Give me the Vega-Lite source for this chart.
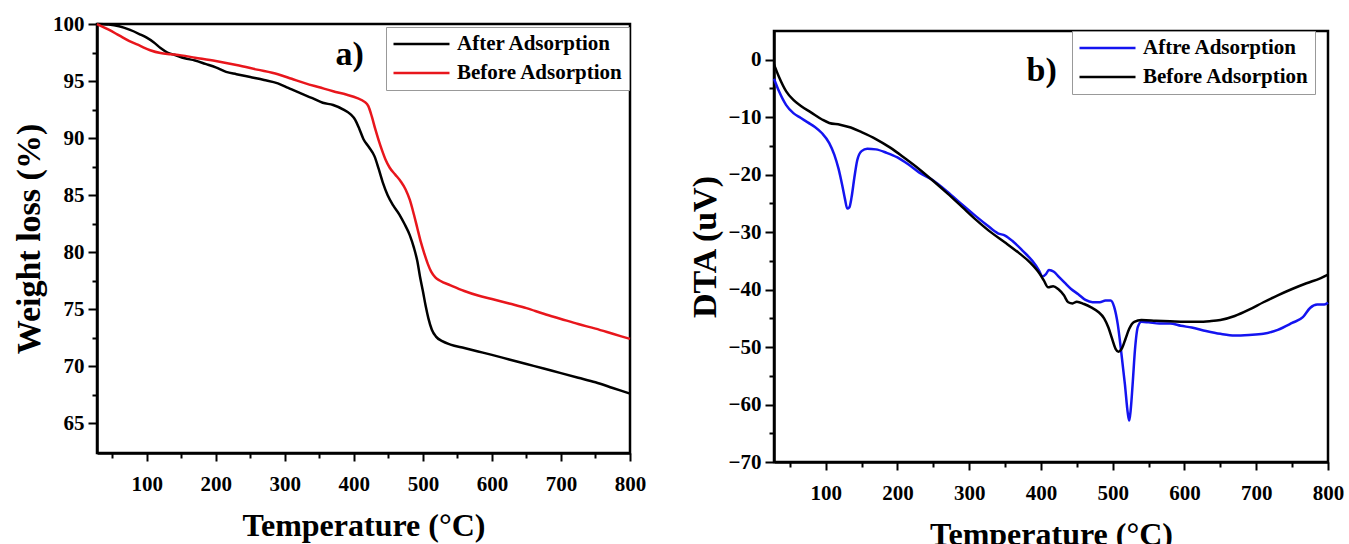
{
  "$schema": "https://vega.github.io/schema/vega-lite/v6.json",
  "background": "white",
  "padding": {"left": 11, "top": 11, "right": 0, "bottom": 0},
  "spacing": 39,
  "config": {
    "font": "Liberation Serif",
    "view": {"stroke": "black", "strokeWidth": 2.5},
    "axis": {
      "grid": false,
      "domainColor": "black",
      "domainWidth": 2.5,
      "tickColor": "black",
      "tickWidth": 2,
      "labelFont": "Liberation Serif",
      "labelFontWeight": "bold",
      "labelFontSize": 21,
      "labelColor": "black",
      "titleFont": "Liberation Serif",
      "titleFontWeight": "bold",
      "titleColor": "black",
      "labelOverlap": false
    },
    "legend": {
      "orient": "none",
      "title": null,
      "symbolType": "stroke",
      "symbolSize": 3136,
      "symbolStrokeWidth": 2.5,
      "clipHeight": 22,
      "rowPadding": 7,
      "labelFont": "Liberation Serif",
      "labelFontWeight": "bold",
      "labelFontSize": 21,
      "labelColor": "black",
      "labelLimit": 400,
      "labelOffset": 6,
      "strokeColor": "#999999",
      "fillColor": "white",
      "padding": 6
    }
  },
  "resolve": {
    "scale": {"x": "independent", "y": "independent", "color": "independent"},
    "legend": {"color": "independent"}
  },
  "datasets": {
    "tga": [
      {"T": 28, "w": 100, "s": "After Adsorption"},
      {"T": 45, "w": 99.95, "s": "After Adsorption"},
      {"T": 60, "w": 99.8, "s": "After Adsorption"},
      {"T": 75, "w": 99.5, "s": "After Adsorption"},
      {"T": 90, "w": 99.1, "s": "After Adsorption"},
      {"T": 100, "w": 98.8, "s": "After Adsorption"},
      {"T": 110, "w": 98.4, "s": "After Adsorption"},
      {"T": 120, "w": 97.9, "s": "After Adsorption"},
      {"T": 130, "w": 97.5, "s": "After Adsorption"},
      {"T": 140, "w": 97.3, "s": "After Adsorption"},
      {"T": 155, "w": 97.0, "s": "After Adsorption"},
      {"T": 170, "w": 96.8, "s": "After Adsorption"},
      {"T": 185, "w": 96.5, "s": "After Adsorption"},
      {"T": 200, "w": 96.2, "s": "After Adsorption"},
      {"T": 215, "w": 95.8, "s": "After Adsorption"},
      {"T": 230, "w": 95.6, "s": "After Adsorption"},
      {"T": 250, "w": 95.35, "s": "After Adsorption"},
      {"T": 270, "w": 95.1, "s": "After Adsorption"},
      {"T": 290, "w": 94.8, "s": "After Adsorption"},
      {"T": 305, "w": 94.4, "s": "After Adsorption"},
      {"T": 320, "w": 94.0, "s": "After Adsorption"},
      {"T": 340, "w": 93.5, "s": "After Adsorption"},
      {"T": 355, "w": 93.1, "s": "After Adsorption"},
      {"T": 370, "w": 92.9, "s": "After Adsorption"},
      {"T": 385, "w": 92.5, "s": "After Adsorption"},
      {"T": 395, "w": 92.1, "s": "After Adsorption"},
      {"T": 402, "w": 91.6, "s": "After Adsorption"},
      {"T": 408, "w": 90.8, "s": "After Adsorption"},
      {"T": 414, "w": 89.9, "s": "After Adsorption"},
      {"T": 422, "w": 89.2, "s": "After Adsorption"},
      {"T": 430, "w": 88.4, "s": "After Adsorption"},
      {"T": 436, "w": 87.3, "s": "After Adsorption"},
      {"T": 442, "w": 86.1, "s": "After Adsorption"},
      {"T": 449, "w": 85.0, "s": "After Adsorption"},
      {"T": 457, "w": 84.1, "s": "After Adsorption"},
      {"T": 466, "w": 83.3, "s": "After Adsorption"},
      {"T": 474, "w": 82.4, "s": "After Adsorption"},
      {"T": 481, "w": 81.5, "s": "After Adsorption"},
      {"T": 487, "w": 80.4, "s": "After Adsorption"},
      {"T": 492, "w": 79.2, "s": "After Adsorption"},
      {"T": 496, "w": 77.8, "s": "After Adsorption"},
      {"T": 500, "w": 76.6, "s": "After Adsorption"},
      {"T": 504, "w": 75.3, "s": "After Adsorption"},
      {"T": 508, "w": 74.2, "s": "After Adsorption"},
      {"T": 513, "w": 73.2, "s": "After Adsorption"},
      {"T": 519, "w": 72.6, "s": "After Adsorption"},
      {"T": 528, "w": 72.2, "s": "After Adsorption"},
      {"T": 540, "w": 71.9, "s": "After Adsorption"},
      {"T": 560, "w": 71.6, "s": "After Adsorption"},
      {"T": 580, "w": 71.3, "s": "After Adsorption"},
      {"T": 600, "w": 71.0, "s": "After Adsorption"},
      {"T": 625, "w": 70.6, "s": "After Adsorption"},
      {"T": 650, "w": 70.2, "s": "After Adsorption"},
      {"T": 675, "w": 69.8, "s": "After Adsorption"},
      {"T": 700, "w": 69.4, "s": "After Adsorption"},
      {"T": 725, "w": 69.0, "s": "After Adsorption"},
      {"T": 750, "w": 68.6, "s": "After Adsorption"},
      {"T": 775, "w": 68.1, "s": "After Adsorption"},
      {"T": 800, "w": 67.6, "s": "After Adsorption"},
      {"T": 28, "w": 100, "s": "Before Adsorption"},
      {"T": 45, "w": 99.5, "s": "Before Adsorption"},
      {"T": 60, "w": 99.0, "s": "Before Adsorption"},
      {"T": 75, "w": 98.5, "s": "Before Adsorption"},
      {"T": 90, "w": 98.1, "s": "Before Adsorption"},
      {"T": 105, "w": 97.7, "s": "Before Adsorption"},
      {"T": 120, "w": 97.45, "s": "Before Adsorption"},
      {"T": 135, "w": 97.35, "s": "Before Adsorption"},
      {"T": 150, "w": 97.25, "s": "Before Adsorption"},
      {"T": 170, "w": 97.05, "s": "Before Adsorption"},
      {"T": 200, "w": 96.75, "s": "Before Adsorption"},
      {"T": 230, "w": 96.4, "s": "Before Adsorption"},
      {"T": 260, "w": 96.0, "s": "Before Adsorption"},
      {"T": 290, "w": 95.6, "s": "Before Adsorption"},
      {"T": 310, "w": 95.2, "s": "Before Adsorption"},
      {"T": 330, "w": 94.8, "s": "Before Adsorption"},
      {"T": 350, "w": 94.45, "s": "Before Adsorption"},
      {"T": 370, "w": 94.1, "s": "Before Adsorption"},
      {"T": 390, "w": 93.8, "s": "Before Adsorption"},
      {"T": 405, "w": 93.5, "s": "Before Adsorption"},
      {"T": 415, "w": 93.2, "s": "Before Adsorption"},
      {"T": 421, "w": 92.8, "s": "Before Adsorption"},
      {"T": 426, "w": 91.9, "s": "Before Adsorption"},
      {"T": 431, "w": 90.8, "s": "Before Adsorption"},
      {"T": 436, "w": 89.8, "s": "Before Adsorption"},
      {"T": 441, "w": 88.9, "s": "Before Adsorption"},
      {"T": 446, "w": 88.1, "s": "Before Adsorption"},
      {"T": 452, "w": 87.4, "s": "Before Adsorption"},
      {"T": 460, "w": 86.8, "s": "Before Adsorption"},
      {"T": 468, "w": 86.2, "s": "Before Adsorption"},
      {"T": 475, "w": 85.5, "s": "Before Adsorption"},
      {"T": 481, "w": 84.6, "s": "Before Adsorption"},
      {"T": 487, "w": 83.3, "s": "Before Adsorption"},
      {"T": 492, "w": 82.1, "s": "Before Adsorption"},
      {"T": 497, "w": 80.9, "s": "Before Adsorption"},
      {"T": 502, "w": 79.9, "s": "Before Adsorption"},
      {"T": 507, "w": 79.0, "s": "Before Adsorption"},
      {"T": 512, "w": 78.3, "s": "Before Adsorption"},
      {"T": 518, "w": 77.8, "s": "Before Adsorption"},
      {"T": 525, "w": 77.5, "s": "Before Adsorption"},
      {"T": 540, "w": 77.1, "s": "Before Adsorption"},
      {"T": 560, "w": 76.6, "s": "Before Adsorption"},
      {"T": 580, "w": 76.2, "s": "Before Adsorption"},
      {"T": 600, "w": 75.9, "s": "Before Adsorption"},
      {"T": 625, "w": 75.5, "s": "Before Adsorption"},
      {"T": 650, "w": 75.1, "s": "Before Adsorption"},
      {"T": 675, "w": 74.6, "s": "Before Adsorption"},
      {"T": 700, "w": 74.15, "s": "Before Adsorption"},
      {"T": 725, "w": 73.7, "s": "Before Adsorption"},
      {"T": 750, "w": 73.3, "s": "Before Adsorption"},
      {"T": 775, "w": 72.85, "s": "Before Adsorption"},
      {"T": 800, "w": 72.4, "s": "Before Adsorption"}
    ],
    "dta": [
      {"T": 28, "d": -3.3, "s": "Aftre Adsorption"},
      {"T": 35, "d": -5.5, "s": "Aftre Adsorption"},
      {"T": 45, "d": -7.9, "s": "Aftre Adsorption"},
      {"T": 55, "d": -9.3, "s": "Aftre Adsorption"},
      {"T": 65, "d": -10.1, "s": "Aftre Adsorption"},
      {"T": 75, "d": -10.9, "s": "Aftre Adsorption"},
      {"T": 85, "d": -11.7, "s": "Aftre Adsorption"},
      {"T": 95, "d": -12.8, "s": "Aftre Adsorption"},
      {"T": 105, "d": -14.5, "s": "Aftre Adsorption"},
      {"T": 112, "d": -16.5, "s": "Aftre Adsorption"},
      {"T": 118, "d": -19.0, "s": "Aftre Adsorption"},
      {"T": 123, "d": -21.8, "s": "Aftre Adsorption"},
      {"T": 127, "d": -24.3, "s": "Aftre Adsorption"},
      {"T": 130, "d": -25.9, "s": "Aftre Adsorption"},
      {"T": 133, "d": -25.7, "s": "Aftre Adsorption"},
      {"T": 136, "d": -24.0, "s": "Aftre Adsorption"},
      {"T": 140, "d": -20.5, "s": "Aftre Adsorption"},
      {"T": 144, "d": -17.5, "s": "Aftre Adsorption"},
      {"T": 150, "d": -15.9, "s": "Aftre Adsorption"},
      {"T": 158, "d": -15.5, "s": "Aftre Adsorption"},
      {"T": 170, "d": -15.6, "s": "Aftre Adsorption"},
      {"T": 185, "d": -16.2, "s": "Aftre Adsorption"},
      {"T": 200, "d": -17.0, "s": "Aftre Adsorption"},
      {"T": 215, "d": -18.2, "s": "Aftre Adsorption"},
      {"T": 230, "d": -19.6, "s": "Aftre Adsorption"},
      {"T": 250, "d": -21.0, "s": "Aftre Adsorption"},
      {"T": 270, "d": -23.0, "s": "Aftre Adsorption"},
      {"T": 290, "d": -25.2, "s": "Aftre Adsorption"},
      {"T": 310, "d": -27.3, "s": "Aftre Adsorption"},
      {"T": 325, "d": -28.8, "s": "Aftre Adsorption"},
      {"T": 340, "d": -30.2, "s": "Aftre Adsorption"},
      {"T": 350, "d": -30.6, "s": "Aftre Adsorption"},
      {"T": 360, "d": -31.5, "s": "Aftre Adsorption"},
      {"T": 375, "d": -33.3, "s": "Aftre Adsorption"},
      {"T": 388, "d": -35.0, "s": "Aftre Adsorption"},
      {"T": 397, "d": -36.6, "s": "Aftre Adsorption"},
      {"T": 402, "d": -37.7, "s": "Aftre Adsorption"},
      {"T": 407, "d": -37.3, "s": "Aftre Adsorption"},
      {"T": 411, "d": -36.6, "s": "Aftre Adsorption"},
      {"T": 418, "d": -36.9, "s": "Aftre Adsorption"},
      {"T": 425, "d": -37.8, "s": "Aftre Adsorption"},
      {"T": 433, "d": -38.8, "s": "Aftre Adsorption"},
      {"T": 442, "d": -39.9, "s": "Aftre Adsorption"},
      {"T": 452, "d": -40.8, "s": "Aftre Adsorption"},
      {"T": 462, "d": -41.8, "s": "Aftre Adsorption"},
      {"T": 472, "d": -42.2, "s": "Aftre Adsorption"},
      {"T": 482, "d": -42.2, "s": "Aftre Adsorption"},
      {"T": 490, "d": -41.9, "s": "Aftre Adsorption"},
      {"T": 497, "d": -41.9, "s": "Aftre Adsorption"},
      {"T": 502, "d": -43.0, "s": "Aftre Adsorption"},
      {"T": 507, "d": -46.0, "s": "Aftre Adsorption"},
      {"T": 512, "d": -51.0, "s": "Aftre Adsorption"},
      {"T": 517, "d": -56.5, "s": "Aftre Adsorption"},
      {"T": 521, "d": -61.5, "s": "Aftre Adsorption"},
      {"T": 523, "d": -62.8, "s": "Aftre Adsorption"},
      {"T": 525, "d": -61.0, "s": "Aftre Adsorption"},
      {"T": 528, "d": -56.0, "s": "Aftre Adsorption"},
      {"T": 531, "d": -50.5, "s": "Aftre Adsorption"},
      {"T": 535, "d": -46.5, "s": "Aftre Adsorption"},
      {"T": 540, "d": -45.6, "s": "Aftre Adsorption"},
      {"T": 550, "d": -45.7, "s": "Aftre Adsorption"},
      {"T": 565, "d": -45.9, "s": "Aftre Adsorption"},
      {"T": 580, "d": -45.9, "s": "Aftre Adsorption"},
      {"T": 595, "d": -46.3, "s": "Aftre Adsorption"},
      {"T": 610, "d": -46.6, "s": "Aftre Adsorption"},
      {"T": 630, "d": -47.2, "s": "Aftre Adsorption"},
      {"T": 650, "d": -47.7, "s": "Aftre Adsorption"},
      {"T": 670, "d": -48.0, "s": "Aftre Adsorption"},
      {"T": 690, "d": -47.9, "s": "Aftre Adsorption"},
      {"T": 710, "d": -47.7, "s": "Aftre Adsorption"},
      {"T": 730, "d": -47.0, "s": "Aftre Adsorption"},
      {"T": 750, "d": -45.8, "s": "Aftre Adsorption"},
      {"T": 765, "d": -44.8, "s": "Aftre Adsorption"},
      {"T": 775, "d": -43.2, "s": "Aftre Adsorption"},
      {"T": 785, "d": -42.6, "s": "Aftre Adsorption"},
      {"T": 795, "d": -42.6, "s": "Aftre Adsorption"},
      {"T": 800, "d": -42.3, "s": "Aftre Adsorption"},
      {"T": 28, "d": -0.8, "s": "Before Adsorption"},
      {"T": 35, "d": -3.0, "s": "Before Adsorption"},
      {"T": 45, "d": -5.5, "s": "Before Adsorption"},
      {"T": 55, "d": -7.0, "s": "Before Adsorption"},
      {"T": 65, "d": -8.0, "s": "Before Adsorption"},
      {"T": 80, "d": -9.2, "s": "Before Adsorption"},
      {"T": 95, "d": -10.4, "s": "Before Adsorption"},
      {"T": 105, "d": -11.0, "s": "Before Adsorption"},
      {"T": 120, "d": -11.3, "s": "Before Adsorption"},
      {"T": 135, "d": -11.8, "s": "Before Adsorption"},
      {"T": 150, "d": -12.6, "s": "Before Adsorption"},
      {"T": 170, "d": -13.8, "s": "Before Adsorption"},
      {"T": 190, "d": -15.3, "s": "Before Adsorption"},
      {"T": 210, "d": -17.1, "s": "Before Adsorption"},
      {"T": 230, "d": -19.0, "s": "Before Adsorption"},
      {"T": 250, "d": -21.1, "s": "Before Adsorption"},
      {"T": 270, "d": -23.3, "s": "Before Adsorption"},
      {"T": 290, "d": -25.6, "s": "Before Adsorption"},
      {"T": 310, "d": -27.9, "s": "Before Adsorption"},
      {"T": 330, "d": -30.0, "s": "Before Adsorption"},
      {"T": 350, "d": -31.8, "s": "Before Adsorption"},
      {"T": 370, "d": -33.7, "s": "Before Adsorption"},
      {"T": 385, "d": -35.3, "s": "Before Adsorption"},
      {"T": 398, "d": -37.2, "s": "Before Adsorption"},
      {"T": 404, "d": -38.4, "s": "Before Adsorption"},
      {"T": 410, "d": -39.6, "s": "Before Adsorption"},
      {"T": 417, "d": -39.4, "s": "Before Adsorption"},
      {"T": 424, "d": -39.9, "s": "Before Adsorption"},
      {"T": 432, "d": -41.0, "s": "Before Adsorption"},
      {"T": 438, "d": -42.2, "s": "Before Adsorption"},
      {"T": 444, "d": -42.4, "s": "Before Adsorption"},
      {"T": 450, "d": -42.1, "s": "Before Adsorption"},
      {"T": 460, "d": -42.5, "s": "Before Adsorption"},
      {"T": 470, "d": -43.1, "s": "Before Adsorption"},
      {"T": 480, "d": -43.9, "s": "Before Adsorption"},
      {"T": 488, "d": -45.0, "s": "Before Adsorption"},
      {"T": 494, "d": -46.6, "s": "Before Adsorption"},
      {"T": 499, "d": -48.5, "s": "Before Adsorption"},
      {"T": 504, "d": -50.3, "s": "Before Adsorption"},
      {"T": 508, "d": -50.8, "s": "Before Adsorption"},
      {"T": 513, "d": -50.2, "s": "Before Adsorption"},
      {"T": 518, "d": -48.5, "s": "Before Adsorption"},
      {"T": 523, "d": -46.8, "s": "Before Adsorption"},
      {"T": 530, "d": -45.6, "s": "Before Adsorption"},
      {"T": 540, "d": -45.3, "s": "Before Adsorption"},
      {"T": 560, "d": -45.4, "s": "Before Adsorption"},
      {"T": 580, "d": -45.5, "s": "Before Adsorption"},
      {"T": 600, "d": -45.6, "s": "Before Adsorption"},
      {"T": 620, "d": -45.6, "s": "Before Adsorption"},
      {"T": 635, "d": -45.5, "s": "Before Adsorption"},
      {"T": 650, "d": -45.3, "s": "Before Adsorption"},
      {"T": 670, "d": -44.6, "s": "Before Adsorption"},
      {"T": 690, "d": -43.5, "s": "Before Adsorption"},
      {"T": 710, "d": -42.2, "s": "Before Adsorption"},
      {"T": 730, "d": -41.0, "s": "Before Adsorption"},
      {"T": 750, "d": -39.9, "s": "Before Adsorption"},
      {"T": 770, "d": -38.9, "s": "Before Adsorption"},
      {"T": 790, "d": -38.0, "s": "Before Adsorption"},
      {"T": 800, "d": -37.4, "s": "Before Adsorption"}
    ]
  },
  "hconcat": [
    {
      "width": 533,
      "height": 429,
      "encoding": {
        "x": {
          "field": "T", "type": "quantitative",
          "scale": {"domain": [28, 800], "nice": false, "zero": false},
          "axis": {
            "title": "Temperature (°C)",
            "titleFontSize": 32,
            "values": [50, 100, 150, 200, 250, 300, 350, 400, 450, 500, 550, 600, 650, 700, 750, 800],
            "labelExpr": "datum.value % 100 === 0 ? datum.label : ''",
            "tickSize": {"condition": {"test": "datum.value % 100 === 0", "value": 8}, "value": 5},
            "labelFlush": false,
            "labelPadding": 12,
            "titlePadding": 16
          }
        },
        "y": {
          "field": "w", "type": "quantitative",
          "scale": {"domain": [62.4, 100], "nice": false, "zero": false},
          "axis": {
            "title": "Weight loss (%)",
            "titleFontSize": 34,
            "values": [65, 67.5, 70, 72.5, 75, 77.5, 80, 82.5, 85, 87.5, 90, 92.5, 95, 97.5, 100],
            "labelExpr": "datum.value % 5 === 0 ? datum.label : ''",
            "tickSize": {"condition": {"test": "datum.value % 5 === 0", "value": 9}, "value": 5},
            "labelPadding": 4,
            "titlePadding": 6
          }
        }
      },
      "layer": [
        {
          "data": {"name": "tga"},
          "mark": {"type": "line", "strokeWidth": 2.5, "interpolate": "monotone"},
          "encoding": {
            "color": {
              "field": "s", "type": "nominal",
              "scale": {"domain": ["After Adsorption", "Before Adsorption"], "range": ["#000000", "#e8161c"]},
              "legend": {"legendX": 289, "legendY": 3}
            }
          }
        },
        {
          "data": {"values": [{"T": 394, "w": 97.3, "label": "a)"}]},
          "mark": {"type": "text", "font": "Liberation Serif", "fontWeight": "bold", "fontSize": 34, "color": "black"},
          "encoding": {"text": {"field": "label"}}
        }
      ]
    },
    {
      "spacing": 0,
      "vconcat": [
        {
          "width": 554,
          "height": 5,
          "view": {"stroke": null},
          "data": {"values": []},
          "mark": {"type": "point"},
          "encoding": {}
        },
        {
          "width": 554,
          "height": 431,
          "encoding": {
            "x": {
              "field": "T", "type": "quantitative",
              "scale": {"domain": [28, 800], "nice": false, "zero": false},
              "axis": {
                "title": "Temperature (°C)",
                "titleFontSize": 32,
                "values": [50, 100, 150, 200, 250, 300, 350, 400, 450, 500, 550, 600, 650, 700, 750, 800],
                "labelExpr": "datum.value % 100 === 0 ? datum.label : ''",
                "tickSize": {"condition": {"test": "datum.value % 100 === 0", "value": 8}, "value": 5},
                "labelFlush": false,
                "labelPadding": 12,
                "titlePadding": 16
              }
            },
            "y": {
              "field": "d", "type": "quantitative",
              "scale": {"domain": [-70, 5], "nice": false, "zero": false},
              "axis": {
                "title": "DTA (uV)",
                "titleFontSize": 34,
                "values": [-70, -65, -60, -55, -50, -45, -40, -35, -30, -25, -20, -15, -10, -5, 0],
                "labelExpr": "datum.value % 10 === 0 ? datum.label : ''",
                "tickSize": {"condition": {"test": "datum.value % 10 === 0", "value": 9}, "value": 5},
                "labelPadding": 4,
                "titlePadding": 6
              }
            }
          },
          "layer": [
            {
              "data": {"name": "dta"},
              "mark": {"type": "line", "strokeWidth": 2.5, "interpolate": "monotone"},
              "encoding": {
                "color": {
                  "field": "s", "type": "nominal",
                  "scale": {"domain": ["Aftre Adsorption", "Before Adsorption"], "range": ["#1414f0", "#000000"]},
                  "legend": {"legendX": 298, "legendY": 7}
                }
              }
            },
            {
              "data": {"values": [{"T": 401, "d": -1.9, "label": "b)"}]},
              "mark": {"type": "text", "font": "Liberation Serif", "fontWeight": "bold", "fontSize": 34, "color": "black"},
              "encoding": {"text": {"field": "label"}}
            }
          ]
        }
      ]
    }
  ]
}
